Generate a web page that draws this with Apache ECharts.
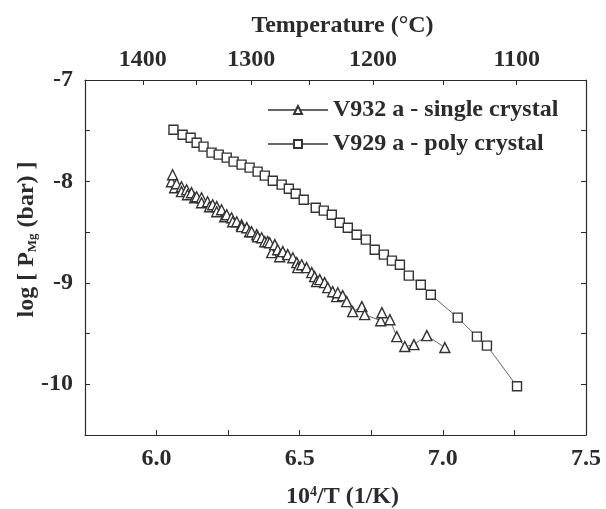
<!DOCTYPE html>
<html>
<head>
<meta charset="utf-8">
<script src="https://cdn.jsdelivr.net/npm/echarts@6/dist/echarts.min.js"></script>
<style>
  html, body { margin: 0; padding: 0; background: #fff; }
  #chart { width: 606px; height: 509px; }
</style>
</head>
<body>
<div id="chart"></div>
<script>
/****** DATA ******/
// V932 a - single crystal : [10^4/T, log P]
var singleCrystal = [
  [6.052, -8.003], [6.056, -7.934], [6.063, -8.062], [6.070, -8.023], [6.087, -8.052],
  [6.087, -8.101], [6.105, -8.082], [6.108, -8.131], [6.122, -8.111], [6.133, -8.161],
  [6.140, -8.151], [6.157, -8.161], [6.157, -8.210], [6.178, -8.200], [6.185, -8.249],
  [6.196, -8.230], [6.210, -8.249], [6.210, -8.299], [6.227, -8.279], [6.238, -8.348],
  [6.245, -8.328], [6.262, -8.358], [6.266, -8.397], [6.280, -8.397], [6.297, -8.427],
  [6.297, -8.446], [6.315, -8.456], [6.325, -8.496], [6.332, -8.496], [6.350, -8.525],
  [6.353, -8.545], [6.367, -8.555], [6.378, -8.594], [6.388, -8.594], [6.395, -8.604],
  [6.402, -8.702], [6.413, -8.623], [6.423, -8.673], [6.430, -8.742], [6.441, -8.692],
  [6.458, -8.722], [6.476, -8.752], [6.490, -8.801], [6.493, -8.850], [6.507, -8.821],
  [6.524, -8.850], [6.542, -8.899], [6.552, -8.939], [6.559, -8.988], [6.570, -8.968],
  [6.587, -8.998], [6.598, -9.047], [6.615, -9.087], [6.629, -9.136], [6.633, -9.097],
  [6.650, -9.126], [6.664, -9.185], [6.685, -9.284], [6.717, -9.234], [6.727, -9.313],
  [6.783, -9.373], [6.787, -9.294], [6.815, -9.363], [6.839, -9.530], [6.867, -9.628],
  [6.899, -9.609], [6.944, -9.520], [7.007, -9.638]
];

// V929 a - poly crystal
var polyCrystal = [
  [6.059, -7.491], [6.091, -7.540], [6.119, -7.569], [6.140, -7.618], [6.164, -7.657],
  [6.192, -7.716], [6.217, -7.736], [6.245, -7.765], [6.269, -7.805], [6.297, -7.834],
  [6.325, -7.864], [6.353, -7.903], [6.378, -7.943], [6.406, -7.993], [6.437, -8.032],
  [6.462, -8.072], [6.486, -8.121], [6.514, -8.180], [6.556, -8.259], [6.584, -8.288],
  [6.612, -8.328], [6.640, -8.407], [6.668, -8.456], [6.699, -8.525], [6.731, -8.574],
  [6.762, -8.673], [6.794, -8.722], [6.822, -8.781], [6.850, -8.821], [6.881, -8.929],
  [6.923, -9.018], [6.958, -9.117], [7.052, -9.343], [7.119, -9.530], [7.154, -9.619],
  [7.259, -10.020]
];

var seriesNames = ['V932 a - single crystal', 'V929 a - poly crystal'];

// bottom axis ticks (10^4/T)
var bottomTicks = [6.0, 6.25, 6.5, 6.75, 7.0, 7.25, 7.5];
var bottomLabels = [6.0, 6.5, 7.0, 7.5];

// top axis: temperature ticks, placed where they sit on the 10^4/T scale
var topTickPos = [5.952, 6.139, 6.331, 6.535, 6.756, 7.001, 7.258];
var topTickText = ['1400', '1350', '1300', '1250', '1200', '1150', '1100'];
var topLabelPos = [5.952, 6.331, 6.756, 7.258];

var FONT = '"Liberation Serif", "Times New Roman", serif';
var INK = '#2b2b2b';

var chart = echarts.init(document.getElementById('chart'));

function axisBase() {
    return {
        type: 'value',
        min: 5.75,
        max: 7.5,
        splitLine: { show: false },
        axisLine: { show: true, onZero: false, lineStyle: { color: INK, width: 1.2 } }
    };
}

var option = {
    animation: false,
    backgroundColor: '#fff',
    grid: { left: 85, right: 20, top: 80, bottom: 74, outerBoundsMode: 'none', containLabel: false },
    legend: {
        orient: 'vertical',
        left: 262,
        top: 93,
        itemWidth: 60,
        itemHeight: 10,
        itemGap: 10,
        data: seriesNames,
        textStyle: { fontFamily: FONT, fontWeight: 'bold', fontSize: 24, color: INK }
    },
    xAxis: [
        Object.assign(axisBase(), {
            position: 'bottom',
            name: '10{sup|4}/T (1/K)',
            nameLocation: 'middle',
            nameGap: 50,
            nameMoveOverlap: false,
            nameTextStyle: {
                fontFamily: FONT, fontWeight: 'bold', fontSize: 24, color: INK,
                padding: [0, 0, 0, 14],
                rich: { sup: { fontFamily: FONT, fontWeight: 'bold', fontSize: 14, color: INK, padding: [0, 0, 10, 0] } }
            },
            axisTick: { inside: true, length: 5, customValues: bottomTicks, lineStyle: { color: INK } },
            axisLabel: {
                customValues: bottomLabels,
                margin: 12,
                fontFamily: FONT, fontWeight: 'bold', fontSize: 24, color: INK,
                formatter: function (v) { return v.toFixed(1); }
            }
        }),
        Object.assign(axisBase(), {
            position: 'top',
            name: 'Temperature (°C)',
            nameLocation: 'middle',
            nameGap: 42,
            nameMoveOverlap: false,
            nameTextStyle: { fontFamily: FONT, fontWeight: 'bold', fontSize: 24, color: INK, padding: [0, 0, 0, 14] },
            axisTick: { inside: true, length: 5, customValues: topTickPos, lineStyle: { color: INK } },
            axisLabel: {
                customValues: topLabelPos,
                margin: 8,
                fontFamily: FONT, fontWeight: 'bold', fontSize: 24, color: INK,
                formatter: function (v) {
                    var i = topTickPos.indexOf(v);
                    return i >= 0 ? topTickText[i] : '';
                }
            }
        })
    ],
    yAxis: [
        {
            type: 'value',
            position: 'left',
            min: -10.5,
            max: -7,
            interval: 0.5,
            name: 'log [ P{sub|Mg} (bar) ]',
            nameLocation: 'middle',
            nameGap: 46,
            nameRotate: 90,
            nameMoveOverlap: false,
            nameTextStyle: {
                fontFamily: FONT, fontWeight: 'bold', fontSize: 24, color: INK,
                padding: [0, 0, 0, 36],
                rich: { sub: { fontFamily: FONT, fontWeight: 'bold', fontSize: 13, color: INK, padding: [12, 0, 0, 0] } }
            },
            splitLine: { show: false },
            axisLine: { show: true, onZero: false, lineStyle: { color: INK, width: 1.2 } },
            axisTick: { inside: true, length: 5, lineStyle: { color: INK } },
            axisLabel: {
                margin: 12,
                fontFamily: FONT, fontWeight: 'bold', fontSize: 24, color: INK,
                formatter: function (v) { return v % 1 === 0 ? String(v) : ''; }
            }
        },
        {
            type: 'value',
            position: 'right',
            min: -10.5,
            max: -7,
            interval: 0.5,
            splitLine: { show: false },
            axisLine: { show: true, onZero: false, lineStyle: { color: INK, width: 1.2 } },
            axisTick: { inside: true, length: 5, lineStyle: { color: INK } },
            axisLabel: { show: false }
        }
    ],
    series: [{
        name: seriesNames[0],
        type: 'line',
        data: singleCrystal,
        symbol: 'triangle',
        symbolSize: 10,
        showAllSymbol: true,
        lineStyle: { color: '#666', width: 1 },
        itemStyle: { color: '#fff', borderColor: '#333', borderWidth: 1.4 }
    }, {
        name: seriesNames[1],
        type: 'line',
        data: polyCrystal,
        symbol: 'rect',
        symbolSize: 9,
        showAllSymbol: true,
        lineStyle: { color: '#666', width: 1 },
        itemStyle: { color: '#fff', borderColor: '#333', borderWidth: 1.4 }
    }]
};

chart.setOption(option);
</script>
</body>
</html>
